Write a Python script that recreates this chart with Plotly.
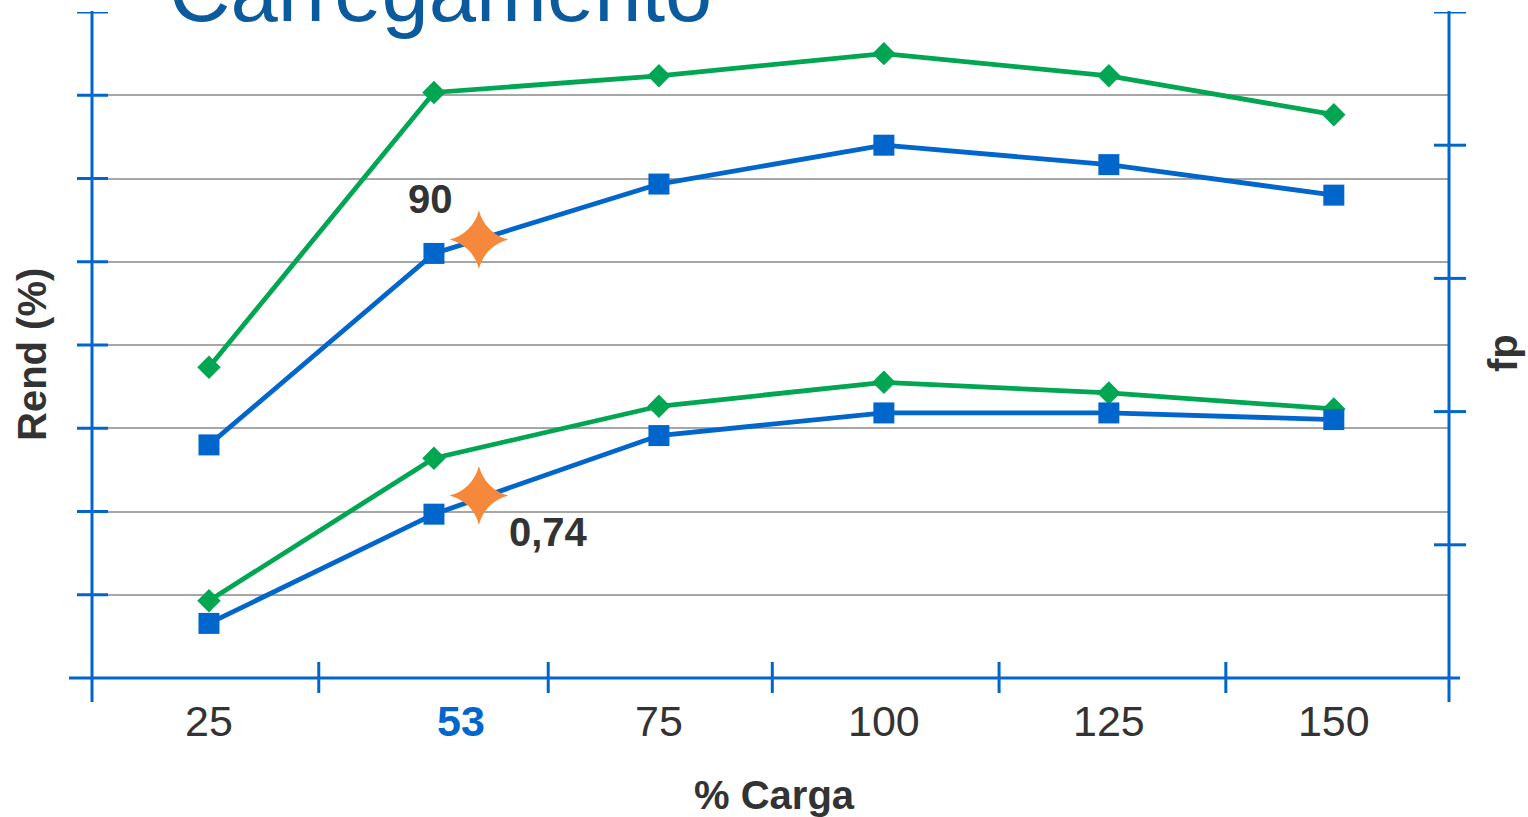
import plotly.graph_objects as go

# ---------------- data ----------------
load = [25, 50, 75, 100, 125, 150]
rend_green = [85.2, 95.1, 95.7, 96.5, 95.7, 94.3]
rend_blue = [82.4, 89.3, 91.8, 93.2, 92.5, 91.4]
fp_green = [0.658, 0.765, 0.804, 0.822, 0.814, 0.802]
fp_blue = [0.641, 0.723, 0.782, 0.799, 0.799, 0.794]

xtick_vals = [25, 53, 75, 100, 125, 150]
xtick_text = ["25", "53", "75", "100", "125", "150"]
highlight_tick = "53"
x_sep_ticks = [37.2, 62.7, 87.6, 112.8, 138.0]

star_load = 55
star_rend = 89.8
star_fp = 0.737
star_rend_label = "90"
star_fp_label = "0,74"

title_text = "Carregamento"
x_title = "% Carga"
y_title = "Rend (%)"
y2_title = "fp"

x_range = [12, 162.8]
rend_range = [74, 98]
rend_ticks = [77, 80, 83, 86, 89, 92, 95, 98]
fp_range = [0.6, 1.1]
fp_ticks = [0.7, 0.8, 0.9, 1.0, 1.1]

# ---------------- style ----------------
BLUE = "#0066cc"
GREEN = "#00a651"
ORANGE = "#f5883a"
TITLE_BLUE = "#0b5a9e"
TEXT = "#333333"
GRID = "#a6a6a6"
FONT = "Arial, Liberation Sans, sans-serif"

fig = go.Figure()
fig.add_trace(go.Scatter(x=load, y=rend_green, mode="lines+markers", yaxis="y",
                         line=dict(color=GREEN, width=4.8),
                         marker=dict(symbol="diamond", size=18, color=GREEN)))
fig.add_trace(go.Scatter(x=load, y=rend_blue, mode="lines+markers", yaxis="y",
                         line=dict(color=BLUE, width=4.8),
                         marker=dict(symbol="square", size=21, color=BLUE)))
fig.add_trace(go.Scatter(x=load, y=fp_green, mode="lines+markers", yaxis="y2",
                         line=dict(color=GREEN, width=4.8),
                         marker=dict(symbol="diamond", size=18, color=GREEN)))
fig.add_trace(go.Scatter(x=load, y=fp_blue, mode="lines+markers", yaxis="y2",
                         line=dict(color=BLUE, width=4.8),
                         marker=dict(symbol="square", size=21, color=BLUE)))
fig.add_trace(go.Scatter(x=[star_load], y=[star_rend], mode="markers", yaxis="y",
                         marker=dict(symbol="star-diamond", size=42, color=ORANGE)))
fig.add_trace(go.Scatter(x=[star_load], y=[star_fp], mode="markers", yaxis="y2",
                         marker=dict(symbol="star-diamond", size=42, color=ORANGE)))

ticktext = [f"<b><span style='color:{BLUE}'>{t}</span></b>" if t == highlight_tick else t
            for t in xtick_text]

shapes = []
line_style = dict(color=BLUE, width=3)
# axis lines
shapes.append(dict(type="line", xref="paper", yref="paper", xsizemode="pixel", xanchor=0,
                   x0=-23, x1=1368, y0=0, y1=0, line=line_style))
shapes.append(dict(type="line", xref="paper", yref="paper", ysizemode="pixel", yanchor=0,
                   x0=0, x1=0, y0=-24, y1=667, line=line_style))
shapes.append(dict(type="line", xref="paper", yref="paper", ysizemode="pixel", yanchor=0,
                   x0=1, x1=1, y0=-24, y1=667, line=line_style))
# cross ticks on x
for t in x_sep_ticks:
    shapes.append(dict(type="line", xref="x", yref="paper", ysizemode="pixel", yanchor=0,
                       x0=t, x1=t, y0=-15, y1=16, line=line_style))
# cross ticks on left axis
for t in rend_ticks:
    shapes.append(dict(type="line", xref="paper", yref="y", xsizemode="pixel", xanchor=0,
                       x0=-15, x1=16, y0=t, y1=t, line=line_style))
# cross ticks on right axis
for t in fp_ticks:
    shapes.append(dict(type="line", xref="paper", yref="y2", xsizemode="pixel", xanchor=1,
                       x0=-15, x1=17, y0=t, y1=t, line=line_style))

annotations = [
    dict(text=title_text, xref="paper", yref="paper", x=0, y=1, xanchor="left",
         yanchor="bottom", xshift=75, yshift=-29, showarrow=False,
         font=dict(family=FONT, size=85, color=TITLE_BLUE)),
    dict(text=f"<b>{x_title}</b>", xref="paper", yref="paper", x=0.5, y=0,
         xanchor="center", yanchor="middle", xshift=4, yshift=-117, showarrow=False,
         font=dict(family=FONT, size=40, color=TEXT)),
    dict(text=f"<b>{y_title}</b>", xref="paper", yref="paper", x=0, y=0.5,
         xanchor="center", yanchor="middle", xshift=-60, yshift=-10, textangle=-90,
         showarrow=False, font=dict(family=FONT, size=40, color=TEXT)),
    dict(text=f"<b>{y2_title}</b>", xref="paper", yref="paper", x=1, y=0.5,
         xanchor="center", yanchor="middle", xshift=54, yshift=-8, textangle=-90,
         showarrow=False, font=dict(family=FONT, size=40, color=TEXT)),
    dict(text=f"<b>{star_rend_label}</b>", xref="x", yref="y", x=star_load, y=star_rend,
         xanchor="center", yanchor="middle", xshift=-48, yshift=41, showarrow=False,
         font=dict(family=FONT, size=40, color=TEXT)),
    dict(text=f"<b>{star_fp_label}</b>", xref="x", yref="y2", x=star_load, y=star_fp,
         xanchor="center", yanchor="middle", xshift=70, yshift=-36, showarrow=False,
         font=dict(family=FONT, size=40, color=TEXT)),
]

fig.update_layout(
    width=1528, height=817,
    margin=dict(l=92, r=79, t=12, b=139),
    paper_bgcolor="white", plot_bgcolor="white",
    showlegend=False,
    font=dict(family=FONT, color=TEXT),
    xaxis=dict(range=x_range, tickvals=xtick_vals, ticktext=ticktext, ticks="",
               showgrid=False, zeroline=False, showline=False,
               tickfont=dict(family=FONT, size=43, color=TEXT), ticklabelstandoff=14),
    yaxis=dict(range=rend_range, tickvals=rend_ticks[:-1], showticklabels=False, ticks="",
               showgrid=True, gridcolor=GRID, gridwidth=2, zeroline=False, showline=False),
    yaxis2=dict(range=fp_range, overlaying="y", side="right", showticklabels=False,
                ticks="", showgrid=False, zeroline=False, showline=False),
    shapes=shapes,
    annotations=annotations,
)

fig.write_html("out.html", config={"displayModeBar": False},
               post_script="document.body.style.margin='0';document.body.style.overflow='hidden';")
